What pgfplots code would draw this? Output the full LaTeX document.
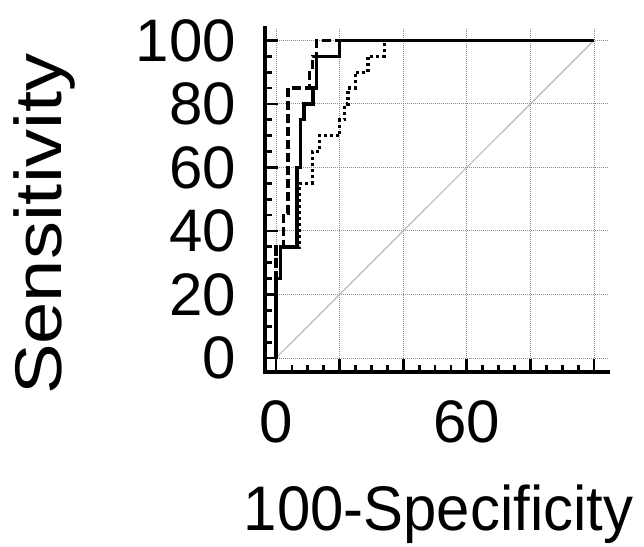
\documentclass[border=0pt]{standalone}
\usepackage{fontspec}
\setmainfont{Liberation Sans}
\usepackage{graphicx}
\usepackage{pgfplots}
\pgfplotsset{compat=1.18}

\begin{document}
\begin{tikzpicture}
\useasboundingbox (-265pt,-174pt) rectangle (379pt,372pt);
\begin{axis}[
  at={(0pt,0pt)}, anchor=south west,
  scale only axis, width=343pt, height=344pt,
  xmin=-3.46, xmax=104.4, ymin=-4.4, ymax=103.9,
  axis lines=left,
  axis line style={-, line width=4pt, line cap=rect},
  xtick={0,20,40,60,80,100}, xticklabels={0,,,60,,},
  ytick={0,20,40,60,80,100},
  minor tick num=3,
  tick align=inside,
  major tick length=13pt, minor tick length=7pt,
  tick style={line width=2.8pt, black},
  grid=major,
  major grid style={line width=1pt, gray!90, dash pattern=on 1pt off 1pt},
  /pgf/number format/assume math mode=true,
  yticklabel style={font=\fontsize{60}{60}\selectfont, anchor=east, inner sep=0pt, xshift=-29pt},
  xticklabel style={font=\fontsize{60}{60}\selectfont, anchor=north, inner sep=0pt, yshift=-28pt},
  xlabel={\scalebox{0.95}[1]{100-Specificity}},
  xlabel style={font=\fontsize{63}{63}\selectfont, at={(axis description cs:0.506,-0.46)}, anchor=base},
  ylabel={\scalebox{1.15}[1]{Sensitivity}},
  ylabel style={font=\fontsize{66}{66}\selectfont, at={(axis description cs:-0.592,0.43)}, anchor=base},
  clip=false,
]
% reference diagonal
\addplot[gray!60, line width=1pt] coordinates {(0,0) (100,100)};

% dotted curve
\addplot[black, line width=3.3pt, dash pattern=on 3pt off 3pt] coordinates {
  (0,0) (0,35) (7.4,35) (7.4,55) (11.4,55) (11.4,65) (13.6,65) (13.6,70)
  (20,70) (20,75) (21.6,75) (21.6,80) (22.6,80) (22.6,85) (24.9,85) (24.9,90)
  (28.9,90) (28.9,95) (34.1,95) (34.1,100) (100,100)};

% dashed curve
\addplot[black, line width=3.3pt, dash pattern=on 9pt off 4pt] coordinates {
  (0,0) (0,35) (2.4,35) (2.4,45.5) (3.8,45.5) (3.8,85) (10.6,85) (10.6,90)
  (11.4,90) (11.4,95) (12.8,95) (12.8,100) (100,100)};

% solid curve
\addplot[black, line width=3.3pt] coordinates {
  (0,0) (0,25) (1.4,25) (1.4,35) (6.6,35) (6.6,60) (7.6,60) (7.6,75)
  (8.8,75) (8.8,80) (11.6,80) (11.6,85) (12.7,85) (12.7,95) (20,95)
  (20,100) (100,100)};
\end{axis}
\end{tikzpicture}
\end{document}
